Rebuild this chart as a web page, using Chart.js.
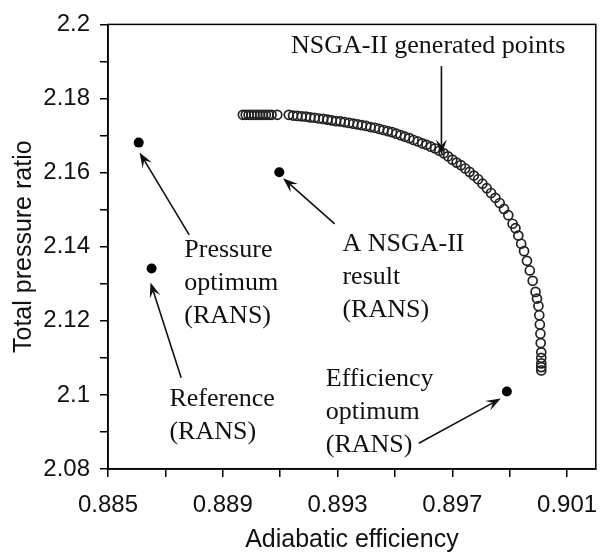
<!DOCTYPE html>
<html>
<head>
<meta charset="utf-8">
<script src="https://cdn.jsdelivr.net/npm/chart.js@4.4.0/dist/chart.umd.min.js"></script>
<style>
  html, body { margin: 0; padding: 0; background: #fff; }
  #wrap { width: 602px; height: 553px; }
</style>
</head>
<body>
<div id="wrap"><canvas id="myChart"></canvas></div>
<script>
// NSGA-II generated points (pareto front)
let paretoX = [0.8897, 0.8898, 0.8899, 0.8900, 0.8901, 0.8902, 0.8903, 0.8904, 0.8905, 0.8906, 0.8907, 0.8909,
    0.8913, 0.89145, 0.8916, 0.89175, 0.8919, 0.89205, 0.8922, 0.89235, 0.8925, 0.89265,
    0.8928, 0.89295, 0.8931, 0.89325, 0.8934, 0.89355, 0.8937, 0.89385, 0.8940, 0.89415,
    0.8943, 0.89445, 0.8946, 0.89475, 0.8949, 0.89505, 0.8952, 0.89535, 0.8955, 0.89565,
    0.8958, 0.89595, 0.8961, 0.89625, 0.8964, 0.89655, 0.8967, 0.89685, 0.8970, 0.89715,
    0.8973, 0.89745, 0.8976, 0.89775, 0.8979, 0.89805, 0.8982, 0.89835, 0.8985, 0.89865,
    0.8988, 0.89895, 0.8991, 0.8992, 0.8993, 0.8994, 0.8995, 0.8996, 0.8997, 0.8998,
    0.8999, 0.89995, 0.9000, 0.90003, 0.90005, 0.90007, 0.90008, 0.9001, 0.9001, 0.9001, 0.9001, 0.9001];
let paretoY = [2.1756, 2.1756, 2.1756, 2.1756, 2.1756, 2.1756, 2.1756, 2.1756, 2.1756, 2.1756, 2.1756, 2.1756,
    2.1756, 2.1754, 2.1753, 2.1752, 2.1751, 2.1749, 2.1748, 2.1746, 2.1745, 2.1743,
    2.1741, 2.1739, 2.1738, 2.1736, 2.1734, 2.1732, 2.1730, 2.1728, 2.1726, 2.1723,
    2.1721, 2.1718, 2.1715, 2.1712, 2.1709, 2.1705, 2.1701, 2.1697, 2.1693, 2.1688,
    2.1684, 2.1679, 2.1675, 2.1670, 2.1665, 2.1659, 2.1652, 2.1644, 2.1635, 2.1627,
    2.1620, 2.1611, 2.1602, 2.1592, 2.1582, 2.1570, 2.1558, 2.1545, 2.1532, 2.1518,
    2.1502, 2.1485, 2.1462, 2.1450, 2.1430, 2.1408, 2.1388, 2.1362, 2.1336, 2.1308,
    2.1278, 2.1260, 2.1240, 2.1215, 2.1190, 2.1165, 2.1140, 2.1115, 2.1100, 2.1085, 2.1075, 2.1066];

// RANS points: pressure optimum, reference, a NSGA-II result, efficiency optimum
let ransX = [0.88607, 0.88652, 0.89097, 0.89890];
let ransY = [2.1681, 2.1341, 2.1601, 2.1009];

let xTicks = [0.885, 0.887, 0.889, 0.891, 0.893, 0.895, 0.897, 0.899, 0.901];
let xLabels = [0.885, 0.889, 0.893, 0.897, 0.901];
let yTicks = [2.08, 2.09, 2.1, 2.11, 2.12, 2.13, 2.14, 2.15, 2.16, 2.17, 2.18, 2.19, 2.2];
let yLabels = [2.08, 2.1, 2.12, 2.14, 2.16, 2.18, 2.2];

// annotation texts (first baseline in data units) and arrows (data units)
let notes = [
    {lines: ['NSGA-II generated points'], x: 0.89138, y: 2.19223},
    {lines: ['Pressure', 'optimum', '(RANS)'], x: 0.88766, y: 2.13731},
    {lines: ['Reference', '(RANS)'], x: 0.88714, y: 2.09713},
    {lines: ['A NSGA-II', 'result', '(RANS)'], x: 0.89317, y: 2.13892},
    {lines: ['Efficiency', 'optimum', '(RANS)'], x: 0.89259, y: 2.10249}
];
let arrows = [
    {from: [0.89662, 2.18875], to: [0.89662, 2.16491]},
    {from: [0.88783, 2.14321], to: [0.88610, 2.16544]},
    {from: [0.88755, 2.10463], to: [0.88648, 2.13035]},
    {from: [0.89290, 2.14616], to: [0.89110, 2.15848]},
    {from: [0.89583, 2.08695], to: [0.89869, 2.09901]}
];

function near(list, v) {
    return list.some((t) => Math.abs(t - v) < 1e-7);
}

function drawArrow(ctx, x1, y1, x2, y2) {
    let a = Math.atan2(y2 - y1, x2 - x1);
    let len = 15, w = 5.5;
    let c = Math.cos(a), s = Math.sin(a);
    ctx.beginPath();
    ctx.moveTo(x1, y1);
    ctx.lineTo(x2 - c * len * 0.6, y2 - s * len * 0.6);
    ctx.stroke();
    ctx.beginPath();
    ctx.moveTo(x2, y2);
    ctx.lineTo(x2 - c * len + s * w, y2 - s * len - c * w);
    ctx.lineTo(x2 - c * len * 0.6, y2 - s * len * 0.6);
    ctx.lineTo(x2 - c * len - s * w, y2 - s * len + c * w);
    ctx.closePath();
    ctx.fill();
}

let notesPlugin = {
    id: 'notes',
    afterDraw(chart) {
        let ctx = chart.ctx;
        let xs = chart.scales.x, ys = chart.scales.y;
        let area = chart.chartArea;
        ctx.save();
        // frame on top and right
        ctx.strokeStyle = '#000';
        ctx.lineWidth = 1.5;
        ctx.strokeRect(area.left, area.top, area.right - area.left, area.bottom - area.top);

        ctx.fillStyle = '#111';
        ctx.font = '26px "Liberation Serif", "Times New Roman", serif';
        ctx.textAlign = 'left';
        ctx.textBaseline = 'alphabetic';
        notes.forEach((n) => {
            let px = xs.getPixelForValue(n.x);
            let py = ys.getPixelForValue(n.y);
            n.lines.forEach((l, i) => ctx.fillText(l, px, py + i * 33));
        });

        ctx.strokeStyle = '#111';
        ctx.lineWidth = 1.6;
        arrows.forEach((a) => {
            drawArrow(ctx,
                xs.getPixelForValue(a.from[0]), ys.getPixelForValue(a.from[1]),
                xs.getPixelForValue(a.to[0]), ys.getPixelForValue(a.to[1]));
        });
        ctx.restore();
    }
};

let ctx = document.getElementById('myChart').getContext('2d');

let data = {
    datasets: [
        {
            data: paretoX.map((x, i) => ({x: x, y: paretoY[i]})),
            pointStyle: 'circle',
            pointRadius: 4.5,
            borderWidth: 1.7,
            borderColor: '#222',
            backgroundColor: 'rgba(255,255,255,0)'
        },
        {
            data: ransX.map((x, i) => ({x: x, y: ransY[i]})),
            pointStyle: 'circle',
            pointRadius: 5,
            borderWidth: 0,
            backgroundColor: '#000'
        }
    ]
};

let myChart = new Chart(ctx, {
    type: 'scatter',
    data: data,
    plugins: [notesPlugin],
    options: {
        animation: false,
        responsive: true,
        maintainAspectRatio: false,
        layout: {padding: {left: 0, right: 3, top: 21, bottom: 0}},
        plugins: {legend: {display: false}, tooltip: {enabled: false}},
        scales: {
            x: {
                type: 'linear',
                min: 0.885,
                max: 0.902,
                afterBuildTicks: (scale) => { scale.ticks = xTicks.map((v) => ({value: v})); },
                afterFit: (scale) => {
                    scale.height = 84;
                    scale.paddingLeft = 0;
                    scale.paddingRight = 0;
                },
                grid: {drawOnChartArea: false, drawTicks: true, tickLength: 8, color: '#000', lineWidth: 1.5},
                border: {display: true, color: '#000', width: 1.5},
                ticks: {
                    autoSkip: false,
                    maxRotation: 0,
                    padding: 14,
                    color: '#111',
                    font: {family: '"Liberation Sans", Arial, sans-serif', size: 24},
                    callback: (v) => near(xLabels, v) ? v.toFixed(3) : ''
                },
                title: {
                    display: true,
                    text: 'Adiabatic efficiency',
                    color: '#111',
                    font: {family: '"Liberation Sans", Arial, sans-serif', size: 25, lineHeight: 1},
                    padding: {top: 0, bottom: 0}
                }
            },
            y: {
                type: 'linear',
                min: 2.08,
                max: 2.2,
                afterBuildTicks: (scale) => { scale.ticks = yTicks.map((v) => ({value: v})); },
                afterFit: (scale) => { scale.width = 108; },
                grid: {drawOnChartArea: false, drawTicks: true, tickLength: 8, color: '#000', lineWidth: 1.5},
                border: {display: true, color: '#000', width: 1.5},
                ticks: {
                    autoSkip: false,
                    padding: 10,
                    color: '#111',
                    font: {family: '"Liberation Sans", Arial, sans-serif', size: 24},
                    callback: (v) => near(yLabels, v) ? String(+v.toFixed(2)) : ''
                },
                title: {
                    display: true,
                    text: 'Total pressure ratio',
                    color: '#111',
                    font: {family: '"Liberation Sans", Arial, sans-serif', size: 25, lineHeight: 1},
                    padding: {top: 12, bottom: 0}
                }
            }
        }
    }
});
</script>
</body>
</html>
